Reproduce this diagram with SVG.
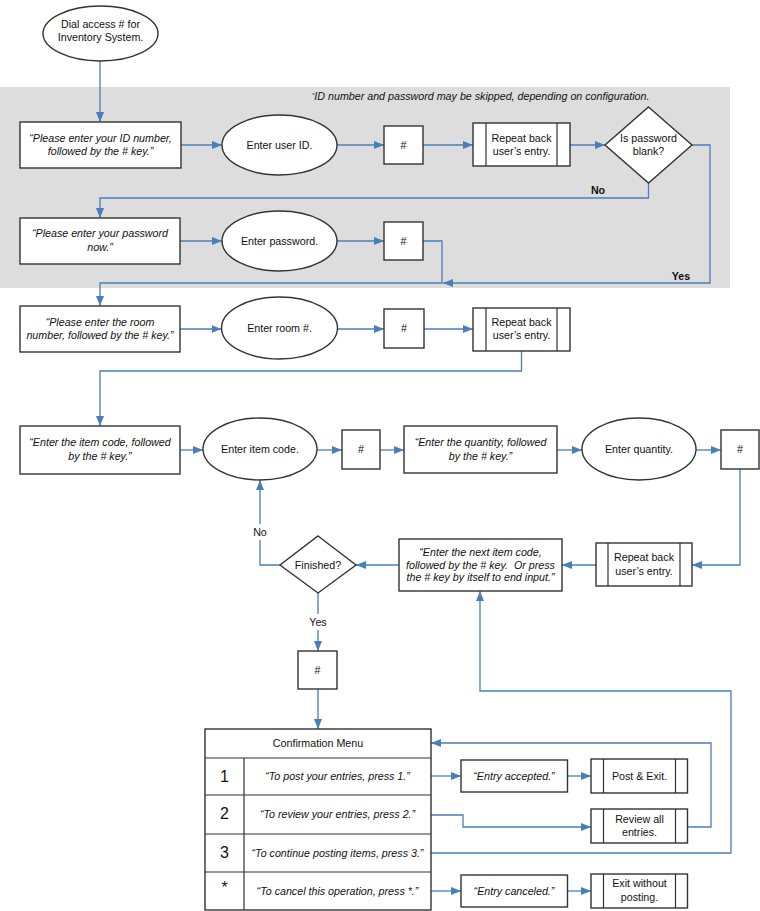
<svg xmlns="http://www.w3.org/2000/svg" width="760" height="911" viewBox="0 0 760 911">
<style>
text{font-family:"Liberation Sans",Arial,sans-serif;font-size:10.7px;fill:#111;text-anchor:middle;white-space:pre}
.it{font-style:italic}
.b{font-weight:bold}
.big{font-size:16px}
.s{fill:#fff;stroke:#333;stroke-width:1.4}
.ln{fill:none;stroke:#333;stroke-width:1.2}
.c{fill:none;stroke:#4a7ebb;stroke-width:1.3}
.ca{fill:none;stroke:#4a7ebb;stroke-width:1.3;marker-end:url(#ah)}
</style>
<defs>
<marker id="ah" markerUnits="userSpaceOnUse" markerWidth="11" markerHeight="9" refX="10" refY="4" orient="auto">
<path d="M0,0 L10,4 L0,8 z" fill="#4a7ebb"/>
</marker>
</defs>
<rect x="0" y="87" width="730" height="201" fill="#dddddd"/>
<text class="it" x="312" y="100" style="text-anchor:start"><tspan font-size="6" dy="-3">*</tspan><tspan dy="3">ID number and password may be skipped, depending on configuration.</tspan></text>

<g id="connectors">
<path class="ca" d="M100,61 V122"/>
<path class="ca" d="M181,145 H222"/>
<path class="ca" d="M337,145 H384"/>
<path class="ca" d="M423,145 H473"/>
<path class="ca" d="M570,145 H605"/>
<path class="ca" d="M692,145 H710 V283 H443"/>
<path class="ca" d="M648.5,183 V198 H100 V218"/>
<path class="ca" d="M180,241 H222"/>
<path class="ca" d="M337,241 H384"/>
<path class="ca" d="M423,241 H442 V283 H100 V306"/>
<path class="ca" d="M180,329 H221.5"/>
<path class="ca" d="M337,329 H384"/>
<path class="ca" d="M424,329 H473"/>
<path class="ca" d="M521.5,351 V371 H100 V426"/>
<path class="ca" d="M180,450 H203"/>
<path class="ca" d="M317,450 H342"/>
<path class="ca" d="M380,450 H404"/>
<path class="ca" d="M557,450 H582"/>
<path class="ca" d="M696,450 H721"/>
<path class="ca" d="M740,469 V565 H692"/>
<path class="ca" d="M596,565 H562"/>
<path class="ca" d="M399,565 H356"/>
<path class="ca" d="M280,565 H260 V480"/>
<path class="ca" d="M318,593 V651"/>
<path class="ca" d="M318,689 V729"/>
<path class="ca" d="M431,776 H461"/>
<path class="ca" d="M567.5,776 H591"/>
<path class="ca" d="M431,815 H463 V827 H591"/>
<path class="ca" d="M687.5,827 H711 V743 H431"/>
<path class="ca" d="M431,853 H731 V691 H480 V591"/>
<path class="ca" d="M431,891 H461"/>
<path class="ca" d="M567.5,891 H591"/>
<text class="b" x="598" y="194">No</text>
<text class="b" x="681" y="280">Yes</text>
<rect x="250" y="524" width="20" height="16" fill="#fff"/>
<text x="260" y="536">No</text>
<rect x="306" y="614" width="24" height="16" fill="#fff"/>
<text x="318" y="626">Yes</text>
</g>

<g id="start">
<ellipse class="s" cx="100.5" cy="33.5" rx="57.5" ry="27.5"/>
<text x="100.5" y="28">Dial access # for</text>
<text x="100.5" y="41">Inventory System.</text>
</g>

<g id="prompt-id">
<rect class="s" x="20" y="122" width="161" height="46"/>
<text class="it" x="100.5" y="142">“Please enter your ID number,</text>
<text class="it" x="100.5" y="155">followed by the # key.”</text>
</g>
<g id="enter-id">
<ellipse class="s" cx="279.5" cy="145" rx="57.5" ry="30"/>
<text x="279.5" y="149">Enter user ID.</text>
</g>
<g id="hash1">
<rect class="s" x="384" y="126" width="39" height="38"/>
<text x="403.5" y="149">#</text>
</g>
<g id="repeat1">
<rect class="s" x="473" y="123" width="97" height="43"/>
<path class="ln" d="M486,123 V166 M557,123 V166"/>
<text x="521.5" y="142">Repeat back</text>
<text x="521.5" y="155">user’s entry.</text>
</g>
<g id="pw-blank">
<path class="s" d="M648.5,107 L692,145 L648.5,183 L605,145 z"/>
<text x="648.5" y="142">Is password</text>
<text x="648.5" y="155">blank?</text>
</g>

<g id="prompt-pw">
<rect class="s" x="20" y="218" width="160" height="46"/>
<text class="it" x="100" y="237">“Please enter your password</text>
<text class="it" x="100" y="251">now.”</text>
</g>
<g id="enter-pw">
<ellipse class="s" cx="279.5" cy="241" rx="57.5" ry="30"/>
<text x="279.5" y="245">Enter password.</text>
</g>
<g id="hash2">
<rect class="s" x="384" y="222" width="39" height="38"/>
<text x="403.5" y="245">#</text>
</g>

<g id="prompt-room">
<rect class="s" x="20" y="306" width="160" height="46"/>
<text class="it" x="100" y="326">“Please enter the room</text>
<text class="it" x="100" y="339">number, followed by the # key.”</text>
</g>
<g id="enter-room">
<ellipse class="s" cx="279.5" cy="328" rx="58" ry="31"/>
<text x="279.5" y="332">Enter room #.</text>
</g>
<g id="hash3">
<rect class="s" x="384" y="309" width="40" height="39"/>
<text x="404" y="332">#</text>
</g>
<g id="repeat2">
<rect class="s" x="473" y="308" width="97" height="43"/>
<path class="ln" d="M486,308 V351 M557,308 V351"/>
<text x="521.5" y="326">Repeat back</text>
<text x="521.5" y="339">user’s entry.</text>
</g>

<g id="prompt-item">
<rect class="s" x="20" y="426" width="160" height="48"/>
<text class="it" x="100" y="446">“Enter the item code, followed</text>
<text class="it" x="100" y="460">by the # key.”</text>
</g>
<g id="enter-item">
<ellipse class="s" cx="260" cy="449" rx="57" ry="31"/>
<text x="260" y="453">Enter item code.</text>
</g>
<g id="hash4">
<rect class="s" x="342" y="430" width="38" height="39"/>
<text x="361" y="453">#</text>
</g>
<g id="prompt-qty">
<rect class="s" x="404" y="426" width="153" height="47"/>
<text class="it" x="480.5" y="446">“Enter the quantity, followed</text>
<text class="it" x="480.5" y="460">by the # key.”</text>
</g>
<g id="enter-qty">
<ellipse class="s" cx="639" cy="449" rx="57" ry="31"/>
<text x="639" y="453">Enter quantity.</text>
</g>
<g id="hash5">
<rect class="s" x="721" y="430" width="38" height="39"/>
<text x="740" y="453">#</text>
</g>

<g id="repeat3">
<rect class="s" x="596" y="543" width="96" height="43"/>
<path class="ln" d="M608,543 V586 M680,543 V586"/>
<text x="644" y="561">Repeat back</text>
<text x="644" y="575">user’s entry.</text>
</g>
<g id="prompt-next">
<rect class="s" x="399" y="539" width="163" height="52"/>
<text class="it" x="480.5" y="556">“Enter the next item code,</text>
<text class="it" x="480.5" y="569">followed by the # key.  Or press</text>
<text class="it" x="480.5" y="581">the # key by itself to end input.”</text>
</g>
<g id="finished">
<path class="s" d="M318,536 L356,565 L318,593 L280,565 z"/>
<text x="318" y="569">Finished?</text>
</g>
<g id="hash6">
<rect class="s" x="298" y="651" width="39" height="38"/>
<text x="317.5" y="674">#</text>
</g>

<g id="menu">
<rect class="s" x="205" y="729" width="226" height="181"/>
<path class="ln" d="M205,758 H431 M205,795 H431 M205,834 H431 M205,872 H431 M244,758 V910"/>
<text x="318" y="747">Confirmation Menu</text>
<text class="big" x="224.5" y="782">1</text>
<text class="big" x="224.5" y="819">2</text>
<text class="big" x="224.5" y="858">3</text>
<text class="big" x="224.5" y="893">*</text>
<text class="it" x="337.5" y="780">“To post your entries, press 1.”</text>
<text class="it" x="337.5" y="818">“To review your entries, press 2.”</text>
<text class="it" x="337.5" y="857">“To continue posting items, press 3.”</text>
<text class="it" x="337.5" y="895">“To cancel this operation, press *.”</text>
</g>

<g id="accepted">
<rect class="s" x="461" y="760" width="106.5" height="32"/>
<text class="it" x="514" y="780">“Entry accepted.”</text>
</g>
<g id="post-exit">
<rect class="s" x="591" y="759" width="96.5" height="34"/>
<path class="ln" d="M603.5,759 V793 M675.5,759 V793"/>
<text x="639.5" y="780">Post &amp; Exit.</text>
</g>
<g id="review">
<rect class="s" x="591" y="809" width="96.5" height="34"/>
<path class="ln" d="M603.5,809 V843 M675.5,809 V843"/>
<text x="639.5" y="823">Review all</text>
<text x="639.5" y="836">entries.</text>
</g>
<g id="canceled">
<rect class="s" x="461" y="875" width="106.5" height="32"/>
<text class="it" x="514" y="895">“Entry canceled.”</text>
</g>
<g id="exit-no-post">
<rect class="s" x="591" y="874" width="96.5" height="34"/>
<path class="ln" d="M603.5,874 V908 M675.5,874 V908"/>
<text x="639.5" y="887">Exit without</text>
<text x="639.5" y="901">posting.</text>
</g>
</svg>
